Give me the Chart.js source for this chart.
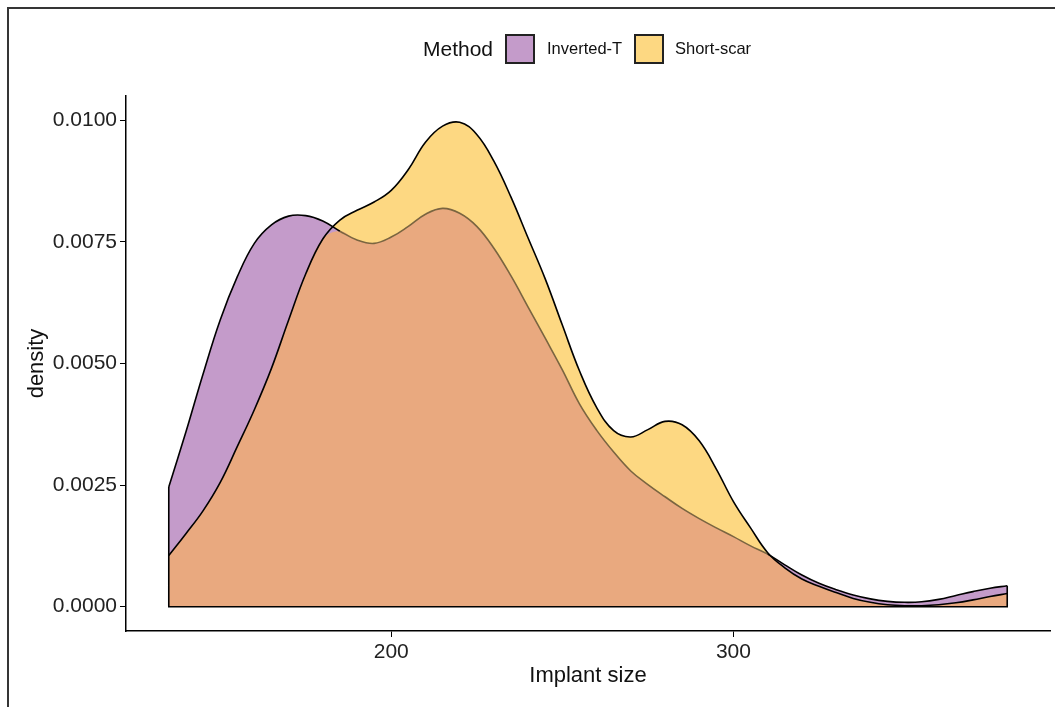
<!DOCTYPE html>
<html>
<head>
<meta charset="utf-8">
<script src="https://cdn.jsdelivr.net/npm/chart.js@4.4.1/dist/chart.umd.min.js"></script>
<style>
  html, body { margin: 0; padding: 0; background: #ffffff; }
  #wrap { position: relative; width: 1055px; height: 707px; overflow: hidden; background: #fff; }
  #c { position: absolute; left: 0; top: 0; }
  #frame { position: absolute; left: 7px; top: 7px; width: 1060px; height: 710px;
           border-left: 2px solid #353535; border-top: 2px solid #353535; pointer-events: none; }
  .lg { position: absolute; top: 34px; height: 29px; display: flex; align-items: center;
        font-family: "Liberation Sans", Arial, sans-serif; color: #111; white-space: nowrap; }
  .title { font-size: 21px; }
  .item { font-size: 16.5px; }
  .box { position: absolute; top: 34px; width: 30px; height: 30px; box-sizing: border-box;
         border: 2px solid #222; }
</style>
</head>
<body>
<div id="wrap">
  <canvas id="c" width="1055" height="707"></canvas>
  <div id="frame"></div>
  <div class="lg title" style="left:423px;">Method</div>
  <div class="box" style="left:505px; background:#C49BCA;"></div>
  <div class="lg item" style="left:547px;">Inverted-T</div>
  <div class="box" style="left:634px; background:#FDD882;"></div>
  <div class="lg item" style="left:675px;">Short-scar</div>
</div>
<script>
// ---- data ----
const implantSize = [135, 140, 145, 150, 155, 160, 165, 170, 175, 180,
                     185, 190, 195, 200, 205, 210, 215, 220, 225, 230,
                     235, 240, 245, 250, 255, 260, 265, 270, 275, 280,
                     285, 290, 295, 300, 305, 310, 315, 320, 325, 330,
                     335, 340, 345, 350, 355, 360, 365, 370, 375, 380];

const invertedT = [0.00246, 0.00359, 0.00478, 0.00589, 0.00678, 0.00747, 0.00785, 0.00803, 0.00804, 0.00793,
                   0.00772, 0.00754, 0.00747, 0.00760, 0.00782, 0.00807, 0.00819, 0.00809, 0.00782, 0.00737,
                   0.00680, 0.00616, 0.00552, 0.00487, 0.00417, 0.00363, 0.00318, 0.00279, 0.00251, 0.00226,
                   0.00202, 0.00181, 0.00162, 0.00144, 0.00125, 0.00108, 0.00086, 0.00065, 0.00048, 0.00035,
                   0.00024, 0.00016, 0.00011, 0.00009, 0.00010, 0.00015, 0.00023, 0.00031, 0.00038, 0.00043];

const shortScar = [0.00105, 0.00150, 0.00197, 0.00255, 0.00329, 0.00405, 0.00490, 0.00589, 0.00684, 0.00756,
                   0.00795, 0.00815, 0.00832, 0.00856, 0.00899, 0.00955, 0.00988, 0.00996, 0.00971, 0.00916,
                   0.00842, 0.00758, 0.00674, 0.00579, 0.00485, 0.00410, 0.00362, 0.00349, 0.00364, 0.00381,
                   0.00374, 0.00341, 0.00283, 0.00216, 0.00162, 0.00111, 0.00080, 0.00057, 0.00042, 0.00029,
                   0.00017, 0.00009, 0.00004, 0.00002, 0.00002, 0.00004, 0.00008, 0.00014, 0.00021, 0.00027];

const xTickValues = [200, 300];
const yTickValues = [0, 0.0025, 0.005, 0.0075, 0.01];
const seriesNames = ['Inverted-T', 'Short-scar'];

// ---- styling ----
const PURPLE = '#C49BCA';
const YELLOW = '#FDD882';
const OVERLAP = '#E9A97F';
const FAINT = '#7a6540';
const FONT = '"Liberation Sans", Arial, sans-serif';
const TICK_COLOR = '#222';

const pts = arr => implantSize.map((x, i) => ({ x: x, y: arr[i] }));
const overlapVals = invertedT.map((v, i) => Math.min(v, shortScar[i]));
const n = implantSize.length - 1;
const edgePts = [
  { x: implantSize[0], y: Math.max(invertedT[0], shortScar[0]) },
  { x: implantSize[0], y: 0 },
  { x: implantSize[n], y: 0 },
  { x: implantSize[n], y: Math.max(invertedT[n], shortScar[n]) }
];

const common = { pointRadius: 0, pointHoverRadius: 0, tension: 0.4, capBezierPoints: true };

new Chart(document.getElementById('c'), {
  type: 'line',
  data: {
    datasets: [
      Object.assign({ label: seriesNames[1], data: pts(shortScar), fill: 'origin',
        backgroundColor: YELLOW, borderColor: 'rgba(0,0,0,0)', borderWidth: 1, order: 6 }, common),
      Object.assign({ label: seriesNames[0], data: pts(invertedT), fill: 'origin',
        backgroundColor: PURPLE, borderColor: 'rgba(0,0,0,0)', borderWidth: 1, order: 5 }, common),
      Object.assign({ label: 'overlap', data: pts(overlapVals), fill: 'origin',
        backgroundColor: OVERLAP, borderColor: 'rgba(0,0,0,0)', borderWidth: 1, order: 4 }, common),
      Object.assign({ label: seriesNames[0] + ' outline', data: pts(invertedT), fill: false,
        borderColor: '#000', borderWidth: 1.6, order: 3,
        segment: {
          borderColor: c => (invertedT[c.p0DataIndex] < shortScar[c.p0DataIndex] &&
                             invertedT[c.p1DataIndex] < shortScar[c.p1DataIndex]) ? FAINT : undefined
        } }, common),
      Object.assign({ label: seriesNames[1] + ' outline', data: pts(shortScar), fill: false,
        borderColor: '#000', borderWidth: 1.6, order: 2 }, common),
      { label: 'edges', data: edgePts, fill: false, tension: 0, borderColor: '#000',
        borderWidth: 1.6, pointRadius: 0, order: 1 }
    ]
  },
  options: {
    responsive: false,
    animation: false,
    events: [],
    layout: { padding: { left: 10, right: 5, top: 96, bottom: 0 } },
    plugins: { legend: { display: false }, tooltip: { enabled: false } },
    scales: {
      x: {
        type: 'linear', min: 122.5, max: 392.5,
        afterBuildTicks: a => { a.ticks = xTickValues.map(v => ({ value: v })); },
        afterFit: s => { s.height = 76; },
        ticks: { font: { family: FONT, size: 21 }, color: TICK_COLOR, padding: 3,
                 callback: v => String(v), maxRotation: 0 },
        grid: { drawOnChartArea: false, drawTicks: true, tickLength: 6, color: '#000', lineWidth: 1 },
        border: { display: true, color: '#000', width: 1.5 },
        title: { display: true, text: 'Implant size', color: '#111',
                 font: { family: FONT, size: 22 }, padding: { top: 0, bottom: 18 } }
      },
      y: {
        type: 'linear', min: -0.0005, max: 0.0105,
        afterBuildTicks: a => { a.ticks = yTickValues.map(v => ({ value: v })); },
        afterFit: s => { s.width = 116; },
        ticks: { font: { family: FONT, size: 21 }, color: TICK_COLOR, padding: 3,
                 callback: v => Number(v).toFixed(4) },
        grid: { drawOnChartArea: false, drawTicks: true, tickLength: 6, color: '#000', lineWidth: 1 },
        border: { display: true, color: '#000', width: 1.5 },
        title: { display: true, text: 'density', color: '#111',
                 font: { family: FONT, size: 22 }, padding: { top: 14, bottom: 0 } }
      }
    }
  }
});
</script>
</body>
</html>
